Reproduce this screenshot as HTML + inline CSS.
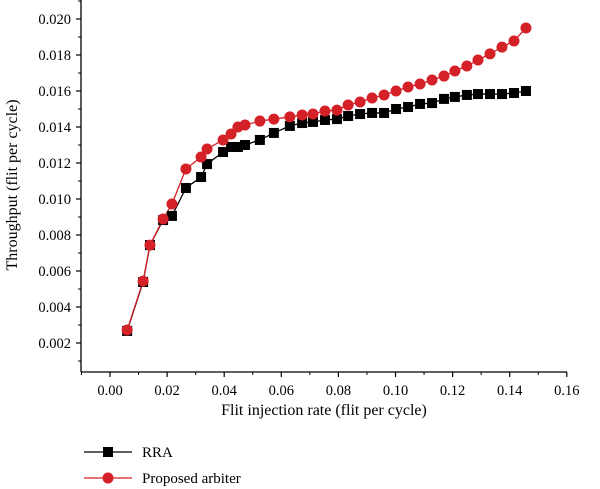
<!DOCTYPE html>
<html><head><meta charset="utf-8"><style>
html,body{margin:0;padding:0;background:#fff;}
svg{display:block;font-family:"Liberation Serif",serif;}
</style></head><body>
<svg id="chart" width="600" height="489">
<g id="axes"></g>
<g id="series"></g>
<text x="324" y="415" font-size="16" text-anchor="middle">Flit injection rate (flit per cycle)</text>
<text transform="translate(17,185) rotate(-90)" font-size="16" text-anchor="middle">Throughput (flit per cycle)</text>
<g>
<g>
<line x1="84" y1="452" x2="132" y2="452" stroke="#000" stroke-width="1.3"/>
<rect x="103" y="447" width="10" height="10" fill="#000"/>
<text x="142" y="457" font-size="15">RRA</text></g>
<g>
<line x1="84" y1="478" x2="132" y2="478" stroke="#d42027" stroke-width="1.3"/>
<circle cx="108" cy="478" r="5.5" fill="#d42027"/>
<text x="142" y="483" font-size="15">Proposed arbiter</text></g>
</g>
</svg>
<script>
const xValues=[0.0060,0.0116,0.0140,0.0186,0.0217,0.0266,0.0319,0.0340,0.0396,0.0424,0.0448,0.0473,0.0525,0.0574,0.0630,0.0673,0.0711,0.0753,0.0795,0.0834,0.0876,0.0918,0.0960,0.1002,0.1044,0.1086,0.1128,0.1170,0.1208,0.1250,0.1289,0.1331,0.1373,0.1415,0.1457];
const rraValues=[0.00267,0.00539,0.00744,0.00883,0.00906,0.01061,0.01122,0.01194,0.01261,0.01289,0.01289,0.01300,0.01328,0.01367,0.01406,0.01422,0.01428,0.01439,0.01444,0.01461,0.01472,0.01478,0.01478,0.01500,0.01511,0.01528,0.01533,0.01556,0.01567,0.01578,0.01583,0.01583,0.01583,0.01589,0.01600];
const proposedValues=[0.00272,0.00544,0.00744,0.00889,0.00972,0.01167,0.01233,0.01278,0.01328,0.01361,0.01400,0.01411,0.01433,0.01444,0.01456,0.01467,0.01472,0.01489,0.01494,0.01522,0.01539,0.01561,0.01578,0.01600,0.01622,0.01639,0.01661,0.01683,0.01711,0.01739,0.01772,0.01806,0.01844,0.01878,0.01950];
const xTicks=["0.00","0.02","0.04","0.06","0.08","0.10","0.12","0.14","0.16"];
const yTicks=["0.002","0.004","0.006","0.008","0.010","0.012","0.014","0.016","0.018","0.020"];

const NS="http://www.w3.org/2000/svg";
const X=v=>110+v/0.02*57.1;
const Y=v=>19+(0.020-v)/0.002*36;
const axes=document.getElementById('axes'), ser=document.getElementById('series');
function mk(tag,attrs,parent){const e=document.createElementNS(NS,tag);for(const k in attrs)e.setAttribute(k,attrs[k]);parent.appendChild(e);return e;}
const axY=372, axX=81;
let l=mk('line',{x1:axX,y1:axY,x2:567,y2:axY,stroke:'#000','stroke-width':1.3},axes);


l=mk('line',{x1:axX,y1:0,x2:axX,y2:axY,stroke:'#000','stroke-width':1.3},axes);


xTicks.forEach(t=>{const v=parseFloat(t),px=X(v);
 mk('line',{x1:px,y1:axY,x2:px,y2:axY+5,stroke:'#000','stroke-width':1.2},axes);
 if(v<0.16)mk('line',{x1:X(v+0.01),y1:axY,x2:X(v+0.01),y2:axY+3,stroke:'#000','stroke-width':1},axes);
 const tx=mk('text',{x:px,y:395,'font-size':14.5,'text-anchor':'middle'},axes);tx.textContent=t;
 
 
});
mk('line',{x1:X(-0.01),y1:axY,x2:X(-0.01),y2:axY+3,stroke:'#000','stroke-width':1},axes);
yTicks.forEach(t=>{const v=parseFloat(t),py=Y(v);
 mk('line',{x1:axX-5,y1:py,x2:axX,y2:py,stroke:'#000','stroke-width':1.2},axes);
 mk('line',{x1:axX-3,y1:Y(v-0.001),x2:axX,y2:Y(v-0.001),stroke:'#000','stroke-width':1},axes);
 const tx=mk('text',{x:71,y:py+5,'font-size':14.5,'text-anchor':'end'},axes);tx.textContent=t;
 
 
});
mk('line',{x1:axX-3,y1:Y(0.021),x2:axX,y2:Y(0.021),stroke:'#000','stroke-width':1},axes);

const pb=mk('polyline',{points:xValues.map((x,i)=>X(x)+','+Y(rraValues[i])).join(' '),fill:'none',stroke:'#000','stroke-width':1.3},ser);


const pr=mk('polyline',{points:xValues.map((x,i)=>X(x)+','+Y(proposedValues[i])).join(' '),fill:'none',stroke:'#d42027','stroke-width':1.3},ser);


xValues.forEach((x,i)=>{
 const r=mk('rect',{x:X(x)-5,y:Y(rraValues[i])-5,width:10,height:10,fill:'#000'},ser);
 
 
});
xValues.forEach((x,i)=>{
 const c=mk('circle',{cx:X(x),cy:Y(proposedValues[i]),r:5.5,fill:'#d42027'},ser);
 
 
});
</script>
</body></html>
